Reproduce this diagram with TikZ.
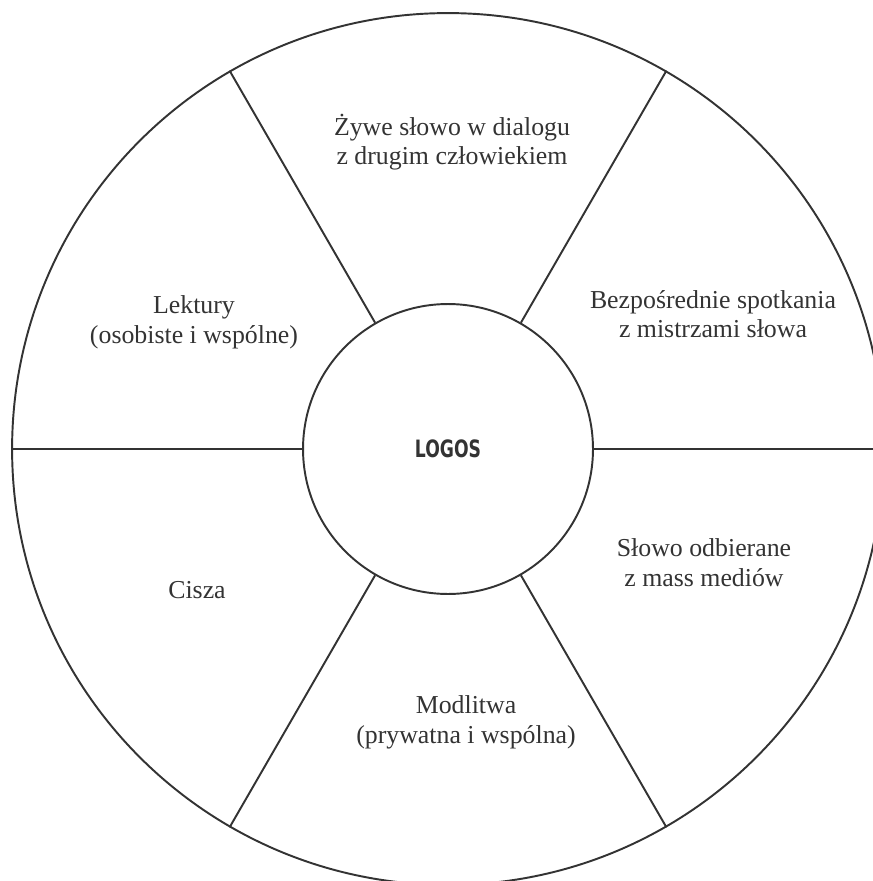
\documentclass[tikz,border=0pt]{standalone}
\usepackage{fontspec}
\setmainfont{Liberation Serif}
\newfontfamily\logosfont[FakeStretch=0.72]{DejaVu Sans}
\definecolor{ink}{HTML}{333333}
\begin{document}
\begin{tikzpicture}[x=0.02cm,y=-0.02cm,
  ring/.style={draw=ink,line width=1.1pt,circle,inner sep=0pt},
  spoke/.style={draw=ink,line width=1.1pt},
  field/.style={align=center,text=ink,font=\fontsize{14.7pt}{16.9pt}\selectfont}]
\useasboundingbox (0,0) rectangle (872,881);
\node[ring,minimum size=17.44cm] (wheel) at (448,449) {};
\node[ring,minimum size=5.8cm,text=ink,font=\logosfont\bfseries\fontsize{13.6pt}{15pt}\selectfont] (hub) at (448,449) {LOGOS};
\draw[spoke] (hub.0) -- (wheel.0);
\draw[spoke] (hub.60) -- (wheel.60);
\draw[spoke] (hub.120) -- (wheel.120);
\draw[spoke] (hub.180) -- (wheel.180);
\draw[spoke] (hub.240) -- (wheel.240);
\draw[spoke] (hub.300) -- (wheel.300);
\node[field] (dialog) at (452,142) {Żywe słowo w dialogu\\z drugim człowiekiem};
\node[field] (meetings) at (713,314) {Bezpośrednie spotkania\\z mistrzami słowa};
\node[field] (media) at (704,563) {Słowo odbierane\\z mass mediów};
\node[field] (prayer) at (466,722) {Modlitwa\\(prywatna i wspólna)};
\node[field] (silence) at (197,590) {Cisza};
\node[field] (reading) at (194,322) {Lektury\\(osobiste i wspólne)};
\end{tikzpicture}
\end{document}
